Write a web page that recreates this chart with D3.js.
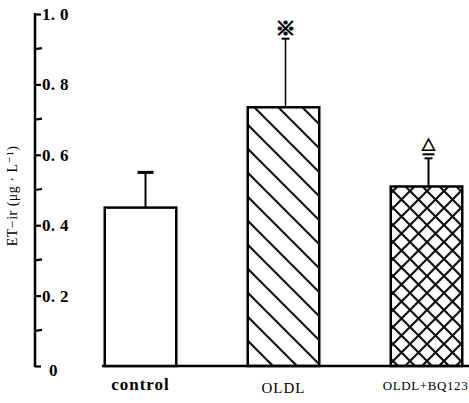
<!DOCTYPE html>
<html>
<head>
<meta charset="utf-8">
<script src="https://cdn.jsdelivr.net/npm/d3@7"></script>
<style>
  body { margin: 0; background: #fff; }
  text { font-family: "Liberation Serif", "DejaVu Serif", serif; fill: #000; }
</style>
</head>
<body>
<div id="graph"></div>
<script>
const width = 469
const height = 403

// data
const categories = ['control', 'OLDL', 'OLDL+BQ123']
const means = [0.45, 0.735, 0.51]
const errors = [0.1, 0.195, 0.08]
const marks = ['', '※', '△']
const majorTicks = [0, 0.2, 0.4, 0.6, 0.8, 1.0]
const minorTicks = [0.1, 0.3, 0.5, 0.7, 0.9]
const tickLabels = ['0', '0. 2', '0. 4', '0. 6', '0. 8', '1. 0']

const svg = d3.select('#graph')
  .append('svg')
  .attr('width', width)
  .attr('height', height)

const defs = svg.append('defs')
defs.append('pattern')
  .attr('id', 'diag')
  .attr('patternUnits', 'userSpaceOnUse')
  .attr('width', 24).attr('height', 24)
  .attr('patternTransform', 'translate(3,0)')
  .append('path')
  .attr('d', 'M0,0 L24,24 M-12,12 L12,36 M12,-12 L36,12')
  .attr('stroke', '#111').attr('stroke-width', 2.2)

const cross = defs.append('pattern')
  .attr('id', 'cross')
  .attr('patternUnits', 'userSpaceOnUse')
  .attr('width', 17).attr('height', 17)
  .attr('patternTransform', 'translate(2,4)')
cross.append('path')
  .attr('d', 'M0,0 L17,17 M-8.5,8.5 L8.5,25.5 M8.5,-8.5 L25.5,8.5 M17,0 L0,17 M8.5,-8.5 L-8.5,8.5 M25.5,8.5 L8.5,25.5')
  .attr('stroke', '#111').attr('stroke-width', 2.2)

const fills = ['#fff', 'url(#diag)', 'url(#cross)']

const x = d3.scaleBand()
  .domain(categories)
  .range([69, 498])
  .paddingInner(0.5)
  .paddingOuter(0.25)

const y = d3.scaleLinear()
  .domain([0, 1])
  .range([366, 14])

const axisX = 35

// y axis
const yAxis = svg.append('g')
  .attr('transform', `translate(${axisX},0)`)
  .call(d3.axisRight(y).tickValues(majorTicks).tickSize(6).tickPadding(2)
    .tickFormat((d, i) => tickLabels[i]))
yAxis.select('.domain').remove()
yAxis.selectAll('.tick line').attr('stroke', '#000').attr('stroke-width', 2.2)
yAxis.selectAll('.tick text')
  .style('font-family', '"Liberation Serif", serif')
  .style('font-size', '17px')
  .style('font-weight', 'bold')
  .style('letter-spacing', '0.3px')
  .attr('fill', '#000')
  .attr('x', d => d === 0 ? 14 : 7)
  .attr('dy', d => d === 0 ? '0.55em' : '0.32em')

// minor ticks
svg.append('g')
  .selectAll('line')
  .data(minorTicks)
  .join('line')
  .attr('x1', axisX).attr('x2', axisX + 7)
  .attr('y1', d => y(d)).attr('y2', d => y(d) - 1)
  .attr('stroke', '#000').attr('stroke-width', 2.2)

svg.append('line')
  .attr('x1', axisX).attr('x2', axisX)
  .attr('y1', y(1) - 1).attr('y2', y(0) + 1)
  .attr('stroke', '#000').attr('stroke-width', 2.5)

// y label
svg.append('text')
  .attr('transform', `translate(17,${y(0.5) + 6}) rotate(-90)`)
  .attr('text-anchor', 'middle')
  .style('font-size', '14px')
  .style('letter-spacing', '0.5px')
  .text('ET\u2212ir (\u03bcg \u00b7 L\u207b\u00b9)')

// baseline
svg.append('line')
  .attr('x1', 102).attr('x2', width)
  .attr('y1', y(0)).attr('y2', y(0))
  .attr('stroke', '#000').attr('stroke-width', 2.5)

// error bars
const err = svg.append('g')
categories.forEach((c, i) => {
  const cx = x(c) + x.bandwidth() / 2 + (i === 0 ? 5 : 2)
  err.append('line')
    .attr('x1', cx).attr('x2', cx)
    .attr('y1', y(means[i])).attr('y2', y(means[i] + errors[i]))
    .attr('stroke', '#000').attr('stroke-width', i === 1 ? 1.5 : 2)
  const capW = i === 0 ? 16 : 8
  err.append('line')
    .attr('x1', cx - capW / 2).attr('x2', cx + capW / 2)
    .attr('y1', y(means[i] + errors[i])).attr('y2', y(means[i] + errors[i]))
    .attr('stroke', '#000').attr('stroke-width', i === 0 ? 3 : 2)
  if (i === 2) {
    err.append('line')
      .attr('x1', cx - 6).attr('x2', cx + 6)
      .attr('y1', y(means[i] + errors[i]) - 4).attr('y2', y(means[i] + errors[i]) - 4)
      .attr('stroke', '#000').attr('stroke-width', 2)
  }
  if (marks[i]) {
    err.append('text')
      .attr('x', cx)
      .attr('y', y(means[i] + errors[i]) - (i === 1 ? 3 : 8))
      .attr('text-anchor', 'middle')
      .style('font-family', '"Noto Sans CJK SC", "DejaVu Sans", sans-serif')
      .style('font-weight', 'bold')
      .style('font-size', i === 1 ? '20px' : '14px')
      .attr('stroke', '#000')
      .attr('stroke-width', i === 1 ? 1.2 : 0.8)
      .text(marks[i])
  }
})

// bars
svg.append('g')
  .selectAll('rect')
  .data(categories)
  .join('rect')
  .attr('x', d => x(d))
  .attr('y', (d, i) => y(means[i]))
  .attr('width', x.bandwidth())
  .attr('height', (d, i) => y(0) - y(means[i]))
  .attr('fill', (d, i) => fills[i])
  .attr('stroke', '#000')
  .attr('stroke-width', 2.5)

// category labels
svg.append('g')
  .selectAll('text')
  .data(categories)
  .join('text')
  .attr('x', (d, i) => x(d) + x.bandwidth() / 2 + (i === 2 ? -1 : 0))
  .attr('y', (d, i) => i === 1 ? 393 : 390)
  .attr('text-anchor', 'middle')
  .style('font-size', (d, i) => i === 2 ? '13px' : (i === 0 ? '17px' : '15px'))
  .style('font-weight', (d, i) => i === 0 ? 'bold' : 'normal')
  .style('letter-spacing', (d, i) => i === 0 ? '1px' : (i === 2 ? '0.6px' : '1px'))
  .text(d => d)
</script>
</body>
</html>
